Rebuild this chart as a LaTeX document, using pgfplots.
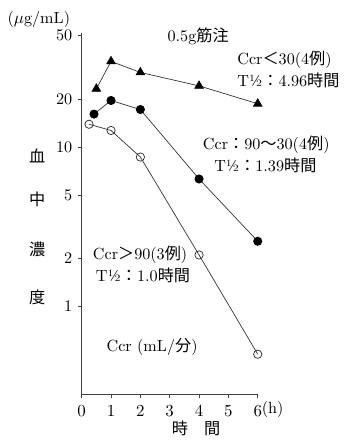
\documentclass[border=0pt]{standalone}
\usepackage{pgfplots}
\pgfplotsset{compat=1.18}
\usepackage{fontspec}
\newfontfamily\jp{Noto Sans CJK JP}
\begin{document}
\begin{tikzpicture}
\begin{axis}[
  scale only axis=true,
  width=114.4pt, height=234.8pt,
  ymode=log,
  xmin=0, xmax=6, ymin=0.28, ymax=52,
  axis x line*=bottom, axis y line*=left,
  axis line style={black!75, line width=0.5pt},
  xtick={0,1,2,3,4,5,6},
  ytick={1,2,5,10,20,50},
  yticklabels={1,2,5,10,20,50},
  minor tick num=0, minor ytick={},
  tick align=outside,
  tick style={black!75, line width=0.5pt},
  major tick length=2.6pt,
  tick label style={font=\fontsize{10.5}{12}\selectfont},
  xticklabel style={yshift=-1pt},
  clip=false,
  every axis plot/.append style={line width=0.45pt, draw=black!80},
  nodes={font=\fontsize{10.5}{12}\selectfont},
]
\addplot[mark=triangle*, mark size=3.2pt, mark options={fill=black, draw=black}] coordinates {
  (0.5,23.2) (1,34.5) (2,29.4) (4,24.2) (6,18.7)};
\addplot[mark=*, mark size=2.7pt, mark options={fill=black, draw=black}] coordinates {
  (0.42,16.1) (1,19.6) (2,17.2) (4,6.3) (6,2.56)};
\addplot[mark=o, mark size=2.7pt, mark options={fill=white, draw=black!85}] coordinates {
  (0.25,13.9) (1,12.7) (2,8.65) (4,2.1) (6,0.5)};

\node at (axis cs:3.97,49.8) {0.5g{\jp 筋注}};
\node[anchor=west] at (axis cs:5.12,35.2) {Ccr{\jp ＜}30(4{\jp 例})};
\node[anchor=west] at (axis cs:5.12,26.4) {T½{\jp ：}4.96{\jp 時間}};
\node at (axis cs:6.29,10.3) {Ccr{\jp ：}90{\jp ～}30(4{\jp 例})};
\node at (axis cs:6.26,7.7) {T½{\jp ：}1.39{\jp 時間}};
\node at (axis cs:1.99,2.10) {Ccr{\jp ＞}90(3{\jp 例})};
\node at (axis cs:2.09,1.57) {T½{\jp ：}1.0{\jp 時間}};
\node at (axis cs:2.4,0.554) {Ccr (mL/{\jp 分})};
\node at (axis cs:-1.46,62.8) {($\mu$g/mL)};
\node at (axis cs:-1.52,8.74) {\jp 血};
\node at (axis cs:-1.52,4.67) {\jp 中};
\node at (axis cs:-1.52,2.27) {\jp 濃};
\node at (axis cs:-1.52,1.14) {\jp 度};
\node at (axis cs:3.9,0.172) {\jp 時\hspace{1em}間};
\node[anchor=west, inner sep=0pt] at (axis cs:6.13,0.224) {(h)};
\coordinate (bbA) at (rel axis cs:-0.464,1.0913);
\coordinate (bbB) at (rel axis cs:1.524,-0.143);
\end{axis}
\pgfresetboundingbox
\useasboundingbox (bbA) rectangle (bbB);
\end{tikzpicture}
\end{document}
